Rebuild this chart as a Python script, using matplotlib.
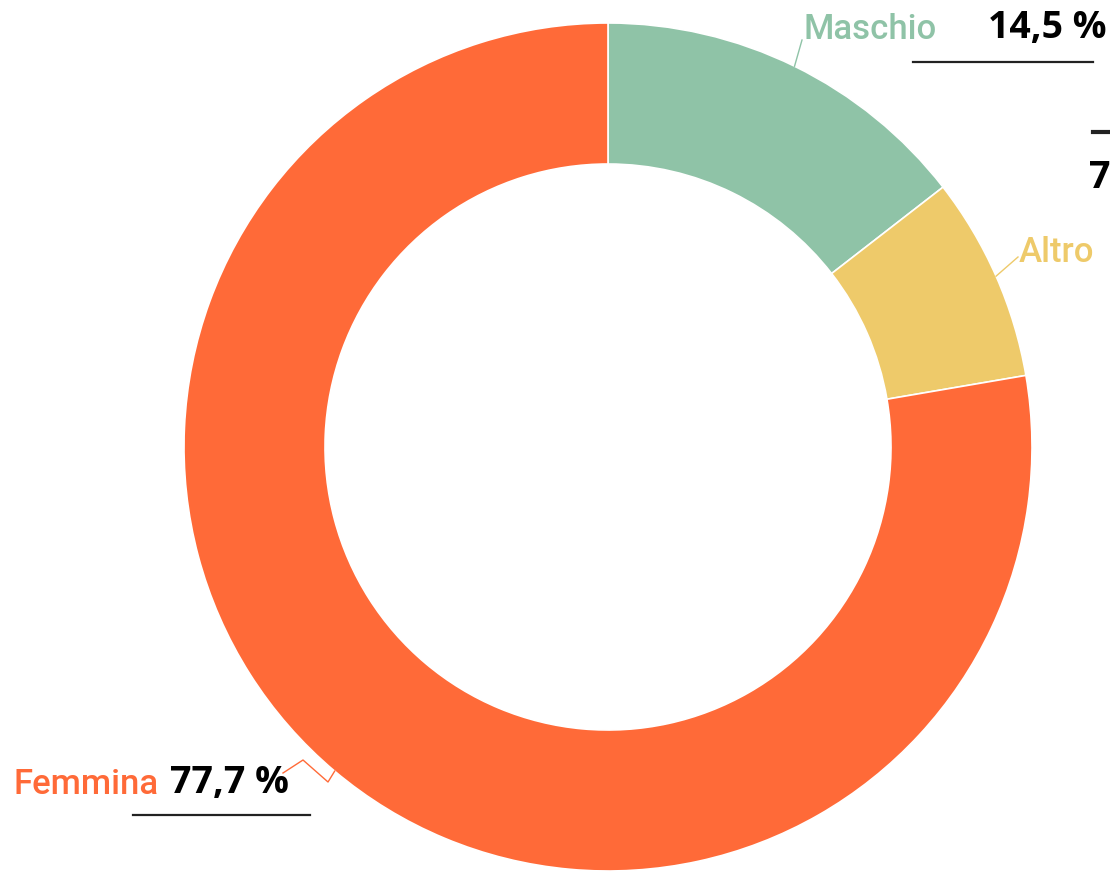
import numpy as np
import matplotlib
matplotlib.use("Agg")
import matplotlib.pyplot as plt

# data
labels = ["Maschio", "Altro", "Femmina"]
values = [14.5, 7.8, 77.7]
value_texts = ["14,5 %", "7,8 %", "77,7 %"]
colors = ["#8fc3a7", "#eeca6a", "#ff6a38"]

W, H = 1110, 872
cx, cy = 608, H - 447
r_out, r_in = 424, 283

fig = plt.figure(figsize=(W / 100, H / 100), dpi=100)
ax = fig.add_axes([0, 0, 1, 1])

wedges, _ = ax.pie(
    values, colors=colors, startangle=90, counterclock=False,
    center=(cx, cy), radius=r_out,
    wedgeprops=dict(width=r_out - r_in, edgecolor="white", linewidth=1.2),
)
ax.set_xlim(0, W)
ax.set_ylim(0, H)
ax.set_aspect("equal")
ax.axis("off")


def edge_point(i):
    # point on the outer edge at the middle of slice i
    start = sum(values[:i])
    mid = (start + values[i] / 2) / 100 * 2 * np.pi
    return cx + r_out * np.sin(mid), cy + r_out * np.cos(mid)


lab_font = dict(family="Roboto", fontsize=25, fontweight="medium")
val_font = dict(family="Open Sans", fontsize=27, fontweight="bold", color="black")

# Maschio
x0, y0 = edge_point(0)
ax.plot([x0, 802], [y0, H - 40], color=colors[0], lw=1)
ax.text(804, H - 30, labels[0], color=colors[0], va="center", ha="left", **lab_font)
ax.text(988, H - 28, value_texts[0], va="center", ha="left", **val_font)
ax.plot([913, 1093], [H - 62, H - 62], color="#222222", lw=1.6)

# Altro (value label runs off the right edge)
x1, y1 = edge_point(1)
ax.plot([x1, 1018], [y1, H - 257], color=colors[1], lw=1)
ax.text(1019, H - 252, labels[1], color=colors[1], va="center", ha="left", **lab_font)
ax.plot([1093, 1115], [H - 132, H - 132], color="#222222", lw=3)
ax.text(1089, H - 178, value_texts[1], va="center", ha="left", clip_on=False, **val_font)

# Femmina
x2, y2 = edge_point(2)
ax.plot([283, 303, 328, x2], [H - 773, H - 760, H - 782, y2], color=colors[2], lw=1)
ax.text(14, H - 785, labels[2], color=colors[2], va="center", ha="left", **lab_font)
ax.text(170, H - 783, value_texts[2], va="center", ha="left", **val_font)
ax.plot([133, 310], [H - 815, H - 815], color="#222222", lw=1.6)

fig.savefig("out.png", dpi=100)
